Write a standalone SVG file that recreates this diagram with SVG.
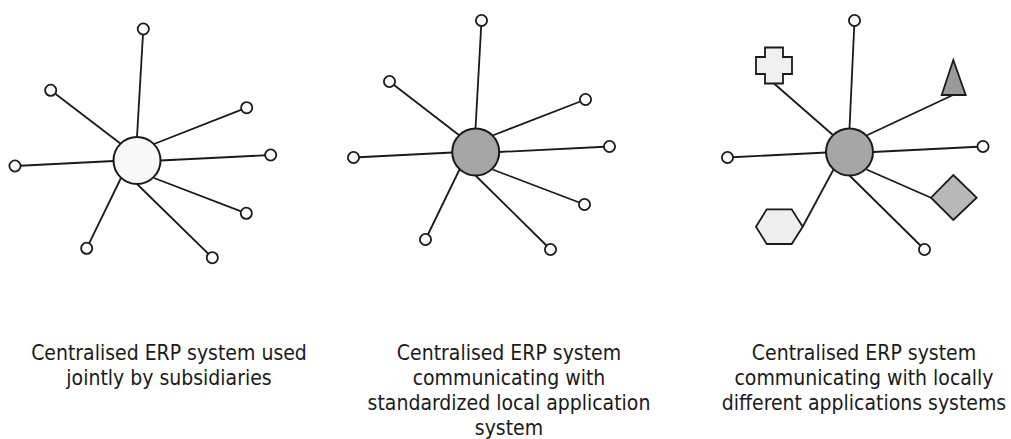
<svg xmlns="http://www.w3.org/2000/svg" width="1011" height="439" viewBox="0 0 1011 439">
<style>
.edge{stroke:#1a1a1a;stroke-width:1.8;fill:none}
.leaf{fill:#fcfcfc;stroke:#1a1a1a;stroke-width:1.8}
.hub{stroke:#1a1a1a;stroke-width:2}
.shape{stroke:#1a1a1a;stroke-width:1.8;stroke-linejoin:miter}
.cap{font-family:"DejaVu Sans Condensed","DejaVu Sans",sans-serif;font-size:21px;fill:#1a1a1a;text-anchor:middle}
</style>
<rect width="1011" height="439" fill="#ffffff"/>
<g id="connectors">
<!-- diagram 1 -->
<line class="edge" x1="137" y1="137" x2="143.3" y2="29"/>
<line class="edge" x1="121" y1="144" x2="50.7" y2="90.3"/>
<line class="edge" x1="114" y1="161" x2="15" y2="166"/>
<line class="edge" x1="121" y1="178" x2="86.7" y2="248.3"/>
<line class="edge" x1="137" y1="184" x2="212.3" y2="257.7"/>
<line class="edge" x1="154" y1="178" x2="246.3" y2="213.3"/>
<line class="edge" x1="160.5" y1="160.5" x2="270.7" y2="155"/>
<line class="edge" x1="154" y1="144" x2="246.7" y2="107.7"/>
<!-- diagram 2 -->
<line class="edge" x1="475.5" y1="128.5" x2="481.5" y2="20.5"/>
<line class="edge" x1="459.5" y1="135.5" x2="389.5" y2="81.5"/>
<line class="edge" x1="452.5" y1="152.5" x2="353.5" y2="157.5"/>
<line class="edge" x1="459.5" y1="169.5" x2="425.5" y2="239.5"/>
<line class="edge" x1="475.5" y1="175.5" x2="550.5" y2="249.5"/>
<line class="edge" x1="492.5" y1="169.5" x2="584.5" y2="204.5"/>
<line class="edge" x1="499" y1="152" x2="609.5" y2="146.5"/>
<line class="edge" x1="492.5" y1="135.5" x2="585.5" y2="99.5"/>
<!-- diagram 3 -->
<line class="edge" x1="849.5" y1="128.5" x2="854.5" y2="20.5"/>
<line class="edge" x1="833.5" y1="135.5" x2="774" y2="83.5"/>
<line class="edge" x1="826.5" y1="152.5" x2="727.5" y2="157.5"/>
<line class="edge" x1="833.5" y1="169.5" x2="802.7" y2="226.7"/>
<line class="edge" x1="849.5" y1="175.5" x2="924.5" y2="249.5"/>
<line class="edge" x1="866.5" y1="169.5" x2="931" y2="197.7"/>
<line class="edge" x1="873" y1="152" x2="983" y2="146.5"/>
<line class="edge" x1="866.5" y1="135.5" x2="953" y2="95"/>
</g>
<g id="d1-hub"><circle class="hub" cx="137" cy="160.5" r="23.5" fill="#f8f8f8"/></g>
<g id="d1-n1"><circle class="leaf" cx="143.3" cy="29" r="5.6"/></g>
<g id="d1-n2"><circle class="leaf" cx="50.7" cy="90.3" r="5.6"/></g>
<g id="d1-n3"><circle class="leaf" cx="15" cy="166" r="5.6"/></g>
<g id="d1-n4"><circle class="leaf" cx="86.7" cy="248.3" r="5.6"/></g>
<g id="d1-n5"><circle class="leaf" cx="212.3" cy="257.7" r="5.6"/></g>
<g id="d1-n6"><circle class="leaf" cx="246.3" cy="213.3" r="5.6"/></g>
<g id="d1-n7"><circle class="leaf" cx="270.7" cy="155" r="5.6"/></g>
<g id="d1-n8"><circle class="leaf" cx="246.7" cy="107.7" r="5.6"/></g>

<g id="d2-hub"><circle class="hub" cx="475.7" cy="152" r="23.5" fill="#a6a6a6"/></g>
<g id="d2-n1"><circle class="leaf" cx="481.5" cy="20.5" r="5.6"/></g>
<g id="d2-n2"><circle class="leaf" cx="389.5" cy="81.5" r="5.6"/></g>
<g id="d2-n3"><circle class="leaf" cx="353.5" cy="157.5" r="5.6"/></g>
<g id="d2-n4"><circle class="leaf" cx="425.5" cy="239.5" r="5.6"/></g>
<g id="d2-n5"><circle class="leaf" cx="550.5" cy="249.5" r="5.6"/></g>
<g id="d2-n6"><circle class="leaf" cx="584.5" cy="204.5" r="5.6"/></g>
<g id="d2-n7"><circle class="leaf" cx="609.5" cy="146.5" r="5.6"/></g>
<g id="d2-n8"><circle class="leaf" cx="585.5" cy="99.5" r="5.6"/></g>

<g id="d3-hub"><circle class="hub" cx="849.5" cy="152" r="23.5" fill="#a6a6a6"/></g>
<g id="d3-n1"><circle class="leaf" cx="854.5" cy="20.5" r="5.6"/></g>
<g id="d3-cross"><path class="shape" fill="#f0f0f0" d="M765,47.5 H783 V57 H792 V74 H783 V83.5 H765 V74 H756 V57 H765 Z"/></g>
<g id="d3-n3"><circle class="leaf" cx="727.5" cy="157.5" r="5.6"/></g>
<g id="d3-hexagon"><polygon class="shape" fill="#eeeeee" points="756,226.7 766.7,209.3 791.7,209.3 802.7,226.7 791.7,244 766.7,244"/></g>
<g id="d3-n5"><circle class="leaf" cx="924.5" cy="249.5" r="5.6"/></g>
<g id="d3-diamond"><polygon class="shape" fill="#b8b8b8" points="953.3,175 976.7,197.7 953.3,220 931,197.7"/></g>
<g id="d3-n7"><circle class="leaf" cx="983" cy="146.5" r="5.6"/></g>
<g id="d3-triangle"><polygon class="shape" fill="#9a9a9a" points="953.3,60 965.7,95 941.7,95"/></g>

<g id="caption1">
<text class="cap" x="169" y="360">Centralised ERP system used</text>
<text class="cap" x="169" y="385">jointly by subsidiaries</text>
</g>
<g id="caption2">
<text class="cap" x="509" y="360">Centralised ERP system</text>
<text class="cap" x="509" y="385">communicating with</text>
<text class="cap" x="509" y="410">standardized local application</text>
<text class="cap" x="509" y="435">system</text>
</g>
<g id="caption3">
<text class="cap" x="864" y="360">Centralised ERP system</text>
<text class="cap" x="864" y="385">communicating with locally</text>
<text class="cap" x="864" y="410">different applications systems</text>
</g>
</svg>
